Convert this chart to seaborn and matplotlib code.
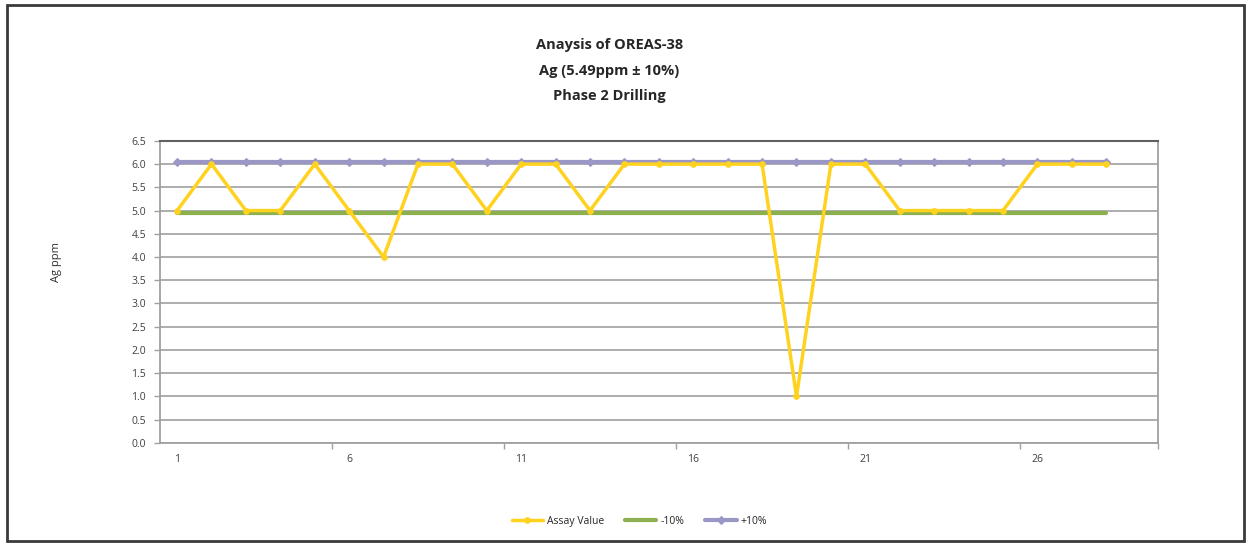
import matplotlib
matplotlib.use("Agg")
import matplotlib.pyplot as plt
from matplotlib.patches import Rectangle
from matplotlib.ticker import FixedLocator, FormatStrFormatter
import numpy as np
import pandas as pd
import seaborn as sns

# sample number and assay values
samples = list(range(1, 29))
assay = [5, 6, 5, 5, 6, 5, 4, 6, 6, 5, 6, 6, 5, 6,
         6, 6, 6, 6, 1, 6, 6, 5, 5, 5, 5, 6, 6, 6]
certified = 5.49
lower = [round(certified * 0.9, 3)] * len(samples)
upper = [round(certified * 1.1, 3)] * len(samples)

series_names = ["Assay Value", "-10%", "+10%"]
colors = {"Assay Value": "#FFD21F", "-10%": "#8CB04E", "+10%": "#9a96c6"}
x_labels = [1, 6, 11, 16, 21, 26]

df = pd.DataFrame({
    "sample": samples * 3,
    "value": assay + lower + upper,
    "series": ["Assay Value"] * 28 + ["-10%"] * 28 + ["+10%"] * 28,
})

sns.set_theme(style="white")
plt.rcParams["font.family"] = ["Open Sans", "DejaVu Sans"]

fig = plt.figure(figsize=(12.49, 5.44), dpi=100)
ax = fig.add_axes([0.128, 0.186, 0.799, 0.555])

# draw the limit lines first, assay on top
sns.lineplot(data=df[df.series == "-10%"], x="sample", y="value",
             color=colors["-10%"], lw=3, ax=ax, label="-10%", zorder=3)
sns.lineplot(data=df[df.series == "+10%"], x="sample", y="value",
             color=colors["+10%"], lw=3, marker="D", markersize=4,
             markeredgecolor=colors["+10%"], ax=ax, label="+10%", zorder=3)
sns.lineplot(data=df[df.series == "Assay Value"], x="sample", y="value",
             color=colors["Assay Value"], lw=2.5, marker="o", markersize=4,
             markeredgecolor=colors["Assay Value"], ax=ax,
             label="Assay Value", zorder=4)

ax.set_xlim(0.5, 29.5)
ax.set_ylim(0, 6.5)
ax.yaxis.set_major_locator(FixedLocator(np.arange(0, 6.51, 0.5)))
ax.yaxis.set_major_formatter(FormatStrFormatter("%.1f"))
ax.xaxis.set_major_locator(FixedLocator(x_labels))
ax.xaxis.set_minor_locator(FixedLocator([5.5, 10.5, 15.5, 20.5, 25.5, 29.5]))
ax.grid(axis="y", color="#a0a0a0", lw=1.2)
ax.tick_params(axis="x", which="major", length=0, pad=8, labelsize=7.5,
               labelcolor="#404040")
ax.tick_params(axis="x", which="minor", length=4, width=1, color="#a0a0a0",
               direction="out", bottom=True)
ax.tick_params(axis="y", length=4, width=1, color="#a0a0a0", left=True,
               labelsize=7.5, labelcolor="#404040", pad=6)
ax.set_xlabel("")
ax.set_ylabel("Ag ppm", fontsize=8, color="#303030")
ax.yaxis.set_label_coords(-0.098, 0.6)
for side in ["left", "bottom", "right"]:
    ax.spines[side].set_color("#a0a0a0")
    ax.spines[side].set_linewidth(1.3)
ax.spines["top"].set_color("#606060")
ax.spines["top"].set_linewidth(1.5)

handles, labels = ax.get_legend_handles_labels()
order = [labels.index(n) for n in series_names]
ax.legend([handles[i] for i in order], series_names, loc="center",
          bbox_to_anchor=(0.512, 0.042), bbox_transform=fig.transFigure,
          ncol=3, frameon=False, fontsize=7.5, handlelength=3,
          columnspacing=2.0, handletextpad=0.4)

for text, y in [("Anaysis of OREAS-38", 0.918),
                ("Ag (5.49ppm \u00b1 10%)", 0.869),
                ("Phase 2 Drilling", 0.823)]:
    fig.text(0.488, y, text, ha="center", va="center", fontsize=10.5,
             fontweight="bold", color="#262626")

# chart frame
fig.patches.append(Rectangle((0.006, 0.005), 0.99, 0.985,
                             transform=fig.transFigure, fill=False,
                             edgecolor="#3a3a3a", lw=2))

fig.savefig("out.png", dpi=100)
